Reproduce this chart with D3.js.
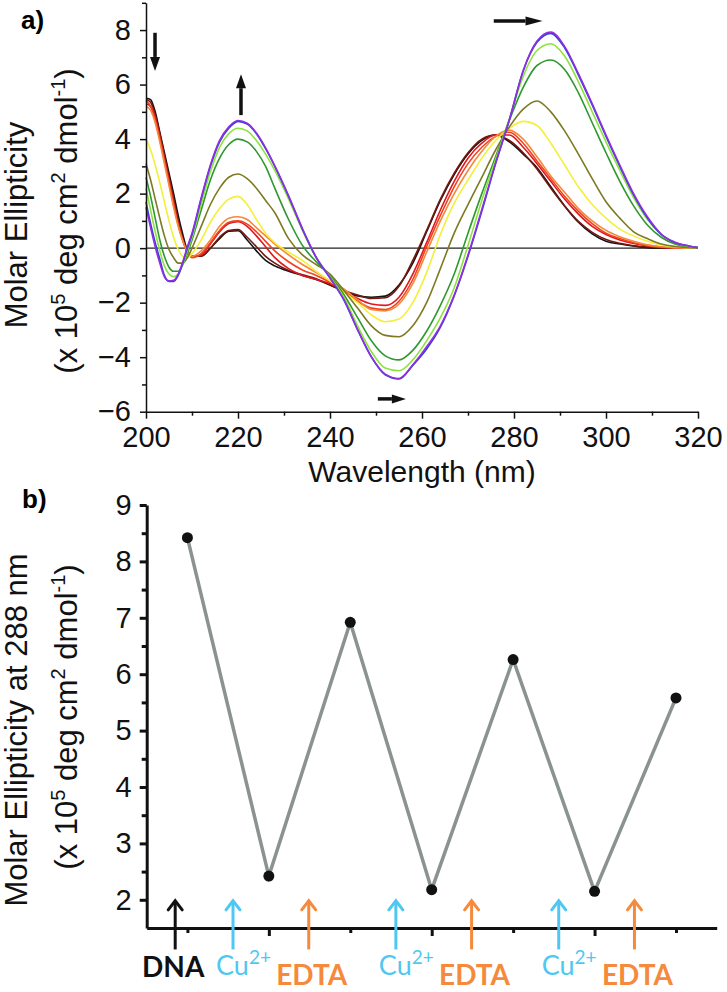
<!DOCTYPE html>
<html><head><meta charset="utf-8">
<script src="https://cdn.jsdelivr.net/npm/d3@7"></script>
<style>body{margin:0;background:#fff}svg{display:block}</style>
</head><body>
<svg id="chart" width="727" height="992"></svg>
<script>
// ---------- Panel a data ----------
const wavelengths = [200,201,202,203,204,205,206,207,208,209,210,
  212,214,216,218,220,222,224,226,228,
  231,234,237,240,243,246,249,252,255,258,
  261,264,267,270,273,276,279,282,285,288,
  291,294,297,300,303,306,309,312,315,318,320];

const sBlack = [5.5,5.45,5.0,4.25,3.5,2.75,2.0,1.2,0.5,-0.1,-0.3,
  -0.3,0.0,0.35,0.62,0.64,0.3,-0.1,-0.45,-0.65,
  -0.85,-1.0,-1.15,-1.35,-1.58,-1.75,-1.8,-1.76,-1.35,-0.55,
  0.6,1.75,2.7,3.45,3.95,4.15,3.9,3.45,2.95,2.25,
  1.55,0.95,0.52,0.25,0.15,0.08,0.02,0.0,0.0,0.0,0.0];
const sMaroon = [5.45,5.35,4.9,4.2,3.4,2.6,1.8,1.0,0.35,-0.15,-0.3,
  -0.3,0.0,0.4,0.65,0.68,0.4,0.05,-0.3,-0.55,
  -0.82,-0.98,-1.12,-1.35,-1.55,-1.72,-1.85,-1.82,-1.4,-0.45,
  0.65,1.8,2.75,3.5,4.0,4.15,3.95,3.5,2.9,2.2,
  1.55,0.98,0.58,0.32,0.18,0.09,0.04,0.01,0.0,0.0,0.0];
const sRed = [5.3,5.2,4.8,4.1,3.3,2.5,1.7,0.9,0.3,-0.15,-0.3,
  -0.25,0.15,0.6,0.9,0.97,0.8,0.45,0.05,-0.35,
  -0.75,-1.0,-1.15,-1.3,-1.55,-1.85,-2.05,-2.1,-1.8,-0.95,
  0.2,1.4,2.45,3.3,3.85,4.15,4.15,3.7,3.1,2.45,
  1.8,1.25,0.8,0.5,0.3,0.17,0.08,0.03,0.01,0.0,0.0];
const sOrangeRed = [5.4,5.2,4.7,4.0,3.2,2.4,1.6,0.85,0.28,-0.15,-0.35,
  -0.2,0.2,0.65,0.95,1.0,0.88,0.6,0.25,-0.1,
  -0.5,-0.8,-1.0,-1.25,-1.55,-1.95,-2.2,-2.25,-1.95,-1.15,
  0.05,1.2,2.25,3.1,3.7,4.1,4.25,3.85,3.2,2.55,
  1.9,1.35,0.9,0.55,0.35,0.2,0.1,0.04,0.01,0.0,0.0];
const sOrange = [5.2,5.05,4.6,3.9,3.1,2.3,1.5,0.8,0.25,-0.15,-0.3,
  -0.1,0.3,0.8,1.1,1.15,1.05,0.75,0.45,0.15,
  -0.25,-0.6,-0.9,-1.2,-1.5,-1.9,-2.25,-2.3,-2.05,-1.3,
  -0.15,1.0,2.0,2.85,3.55,4.1,4.33,4.0,3.35,2.65,
  2.05,1.45,1.0,0.65,0.42,0.25,0.12,0.05,0.02,0.0,0.0];
const sYellow = [4.0,3.6,3.05,2.4,1.7,1.0,0.4,-0.05,-0.3,-0.35,-0.2,
  0.3,0.95,1.45,1.8,1.9,1.6,1.05,0.55,0.2,
  -0.15,-0.45,-0.85,-1.2,-1.6,-2.0,-2.45,-2.7,-2.6,-2.0,
  -0.9,0.5,1.65,2.5,3.3,3.95,4.4,4.65,4.5,3.85,
  3.05,2.25,1.6,1.1,0.7,0.45,0.25,0.12,0.05,0.02,0.0];
const sOlive = [3.1,2.5,1.8,1.1,0.45,-0.05,-0.35,-0.55,-0.55,-0.35,0.0,
  0.8,1.6,2.2,2.6,2.72,2.55,2.2,1.75,1.3,
  0.35,-0.25,-0.6,-0.95,-1.55,-2.2,-2.85,-3.2,-3.25,-2.85,
  -2.0,-0.75,0.55,1.6,2.6,3.6,4.45,5.1,5.4,5.0,
  4.3,3.45,2.55,1.7,1.1,0.6,0.35,0.15,0.06,0.02,0.0];
const sGreen = [2.6,1.9,1.1,0.3,-0.3,-0.7,-0.85,-0.85,-0.6,-0.2,0.3,
  1.4,2.5,3.3,3.8,4.0,3.9,3.55,3.0,2.2,
  1.05,0.1,-0.5,-1.0,-1.7,-2.55,-3.4,-3.95,-4.1,-3.75,
  -3.05,-2.1,-0.95,0.55,2.0,3.35,4.7,5.9,6.7,6.9,
  6.55,5.7,4.6,3.5,2.45,1.55,0.85,0.4,0.15,0.05,0.02];
const sLightGreen = [2.2,1.4,0.6,-0.1,-0.65,-0.95,-1.05,-0.95,-0.6,-0.1,0.4,
  1.6,2.8,3.7,4.2,4.4,4.3,3.95,3.45,2.85,
  1.8,0.65,-0.35,-1.05,-1.8,-2.85,-3.8,-4.4,-4.5,-4.1,
  -3.4,-2.55,-1.45,0.1,1.75,3.25,4.75,6.3,7.25,7.5,
  7.05,6.1,5.0,3.9,2.85,1.85,1.05,0.5,0.2,0.07,0.02];
const sBlue = [1.7,0.9,0.2,-0.4,-1.0,-1.22,-1.22,-1.0,-0.55,0.0,0.5,
  1.8,3.0,3.9,4.4,4.65,4.55,4.2,3.65,3.0,
  1.9,0.7,-0.35,-1.1,-1.9,-3.0,-4.0,-4.65,-4.8,-4.3,
  -3.7,-2.9,-1.75,-0.3,1.35,3.1,4.7,6.5,7.55,7.88,
  7.35,6.35,5.25,4.1,3.0,1.95,1.1,0.5,0.2,0.08,0.02];
const sPurple = [1.5,0.75,0.05,-0.55,-1.05,-1.2,-1.18,-0.95,-0.5,0.05,0.55,
  1.85,3.05,3.95,4.45,4.68,4.58,4.22,3.68,3.02,
  1.92,0.72,-0.33,-1.08,-1.88,-2.98,-3.98,-4.62,-4.78,-4.28,
  -3.62,-2.85,-1.72,-0.25,1.42,3.12,4.72,6.52,7.6,7.93,
  7.4,6.4,5.3,4.15,3.05,2.0,1.15,0.52,0.22,0.08,0.02];

const spectra = [sBlack,sMaroon,sRed,sOrangeRed,sOrange,sYellow,sOlive,sGreen,sLightGreen,sBlue,sPurple];
const spectraColors = ["#141414","#741810","#e1161e","#f0421f","#f5883a","#f3ef3a","#7d7a22","#2e982e","#8be43c","#2f3fd8","#8f2fe0"];

const xTicksTop = [200,220,240,260,280,300,320];
const xMinorTop = [210,230,250,270,290,310];
const yTicksTop = [-6,-4,-2,0,2,4,6,8];
const yMinorTop = [-5,-3,-1,1,3,5,7,9];

// ---------- Panel b data ----------
const steps = [1,2,3,4,5,6,7];
const ellipticity288 = [8.42,2.42,6.92,2.18,6.26,2.15,5.58];
const yTicksBot = [2,3,4,5,6,7,8,9];
const yMinorBot = [2.5,3.5,4.5,5.5,6.5,7.5,8.5];
const xMajorBot = [2,4,6];
const xMinorBot = [1,3,5,7];
const dnaStep = 0.85;
const cuSteps = [1.56,3.56,5.56];
const edtaSteps = [2.49,4.49,6.49];

// ---------- Drawing ----------
const svg = d3.select("#chart");
const FONT = "'Liberation Sans', Arial, sans-serif";
const LFONT = "Lato, 'Open Sans', sans-serif";

// Panel a scales
const xA = d3.scaleLinear().domain([200,320]).range([146,698]);
const yA = d3.scaleLinear().domain([-6,9]).range([411.7,2.8]);

const gA = svg.append("g");
gA.append("line").attr("x1",xA(200)).attr("x2",xA(320)).attr("y1",yA(0)).attr("y2",yA(0))
  .attr("stroke","#222").attr("stroke-width",1.3);

const lineA = d3.line().x((d,i)=>xA(wavelengths[i])).y(d=>yA(d)).curve(d3.curveMonotoneX);
spectra.forEach((s,k)=>{
  gA.append("path").attr("d",lineA(s)).attr("fill","none")
    .attr("stroke",spectraColors[k]).attr("stroke-width",1.6).attr("stroke-linejoin","round");
});

function styleAxis(g, sw, fs){
  g.selectAll(".domain").attr("stroke","#111").attr("stroke-width",sw);
  g.selectAll(".tick line").attr("stroke","#111").attr("stroke-width",sw);
  g.selectAll("text").attr("font-family",FONT).attr("font-size",fs).attr("fill","#111");
}

const axYA = gA.append("g").attr("transform",`translate(${xA(200)},0)`)
  .call(d3.axisLeft(yA).tickValues(yTicksTop).tickSize(6).tickSizeOuter(0).tickPadding(9).tickFormat(d3.format("d")));
styleAxis(axYA,1.5,29);
const axYAm = gA.append("g").attr("transform",`translate(${xA(200)},0)`)
  .call(d3.axisLeft(yA).tickValues(yMinorTop).tickSize(4).tickFormat(""));
axYAm.select(".domain").remove(); styleAxis(axYAm,1.5,29);

const axXA = gA.append("g").attr("transform",`translate(0,${yA(-6)})`)
  .call(d3.axisBottom(xA).tickValues(xTicksTop).tickSize(7).tickSizeOuter(0).tickPadding(8).tickFormat(d3.format("d")));
styleAxis(axXA,1.5,29);
const axXAm = gA.append("g").attr("transform",`translate(0,${yA(-6)})`)
  .call(d3.axisBottom(xA).tickValues(xMinorTop).tickSize(4).tickFormat(""));
axXAm.select(".domain").remove(); styleAxis(axXAm,1.5,29);

function filledArrow(g, x1,y1,x2,y2, shaftW, headL, headW){
  const dx=x2-x1, dy=y2-y1, len=Math.hypot(dx,dy), ux=dx/len, uy=dy/len, px=-uy, py=ux;
  const bx=x2-ux*headL, by=y2-uy*headL;
  g.append("line").attr("x1",x1).attr("y1",y1).attr("x2",bx).attr("y2",by)
    .attr("stroke","#111").attr("stroke-width",shaftW);
  g.append("path").attr("d",`M${x2},${y2}L${bx+px*headW/2},${by+py*headW/2}L${bx-px*headW/2},${by-py*headW/2}Z`)
    .attr("fill","#111");
}
filledArrow(gA, xA(201.96), yA(7.9), xA(201.96), yA(6.5), 3.5, 14, 10);
filledArrow(gA, xA(220.65), yA(4.88), xA(220.65), yA(6.38), 3.5, 14, 10);
filledArrow(gA, xA(275.6), yA(8.33), xA(286.2), yA(8.33), 3.5, 17, 9);
filledArrow(gA, xA(250.4), yA(-5.53), xA(256.5), yA(-5.53), 3.5, 14, 9);

svg.append("text").attr("x",21).attr("y",29).attr("font-family",FONT).attr("font-weight","bold")
  .attr("font-size",26).text("a)");
svg.append("text").attr("x",422).attr("y",482).attr("text-anchor","middle")
  .attr("font-family",FONT).attr("font-size",30).attr("fill","#111").text("Wavelength (nm)");

function yTitle(cx, cy, line1, cx2, cy2){
  svg.append("text").attr("transform",`translate(${cx},${cy}) rotate(-90)`).attr("text-anchor","middle")
    .attr("font-family",FONT).attr("font-size",31).attr("fill","#111").text(line1);
  const t = svg.append("text").attr("transform",`translate(${cx2},${cy2}) rotate(-90)`).attr("text-anchor","middle")
    .attr("font-family",FONT).attr("font-size",31).attr("fill","#111");
  t.append("tspan").text("(x 10");
  t.append("tspan").attr("font-size",20).attr("dy",-12).text("5");
  t.append("tspan").attr("dy",12).text(" deg cm");
  t.append("tspan").attr("font-size",20).attr("dy",-12).text("2");
  t.append("tspan").attr("dy",12).text(" dmol");
  t.append("tspan").attr("font-size",20).attr("dy",-12).text("-1");
  t.append("tspan").attr("dy",12).text(")");
}
yTitle(27, 225, "Molar Ellipticity", 77, 221);

// Panel b scales
const xB = d3.scaleLinear().domain([0.5,7.5]).range([146.7,716.7]);
const yB = d3.scaleLinear().domain([1.5,9]).range([928,505]);
const gB = svg.append("g");

const axYB = gB.append("g").attr("transform",`translate(${xB(0.5)},0)`)
  .call(d3.axisLeft(yB).tickValues(yTicksBot).tickSize(7).tickSizeOuter(0).tickPadding(8).tickFormat(d3.format("d")));
styleAxis(axYB,3,29);
const axYBm = gB.append("g").attr("transform",`translate(${xB(0.5)},0)`)
  .call(d3.axisLeft(yB).tickValues(yMinorBot).tickSize(5).tickFormat(""));
axYBm.select(".domain").remove(); styleAxis(axYBm,3,29);

const axXB = gB.append("g").attr("transform",`translate(0,${yB(1.5)})`)
  .call(d3.axisBottom(xB).tickValues(xMajorBot).tickSize(8).tickSizeOuter(0).tickFormat(""));
styleAxis(axXB,3,29);
const axXBm = gB.append("g").attr("transform",`translate(0,${yB(1.5)})`)
  .call(d3.axisBottom(xB).tickValues(xMinorBot).tickSize(5).tickFormat(""));
axXBm.select(".domain").remove(); styleAxis(axXBm,3,29);

const lineB = d3.line().x((d,i)=>xB(steps[i])).y(d=>yB(d));
gB.append("path").attr("d",lineB(ellipticity288)).attr("fill","none")
  .attr("stroke","#8a9292").attr("stroke-width",3.5).attr("stroke-linejoin","miter");
gB.selectAll("circle.pt").data(ellipticity288).enter().append("circle")
  .attr("cx",(d,i)=>xB(steps[i])).attr("cy",d=>yB(d)).attr("r",5.5).attr("fill","#111");

function openArrow(x, color){
  const yTip = yB(2.0), yTail = yB(1.12);
  gB.append("line").attr("x1",x).attr("x2",x).attr("y1",yTail).attr("y2",yTip+1)
    .attr("stroke",color).attr("stroke-width",3);
  gB.append("path").attr("d",`M${x-7},${yTip+10}L${x},${yTip+1}L${x+7},${yTip+10}`)
    .attr("fill","none").attr("stroke",color).attr("stroke-width",3).attr("stroke-linecap","round");
}
openArrow(xB(dnaStep), "#111");
cuSteps.forEach(s=>openArrow(xB(s), "#4ec8f2"));
edtaSteps.forEach(s=>openArrow(xB(s), "#f58a3c"));

svg.append("text").attr("x",xB(dnaStep)-2).attr("y",977).attr("text-anchor","middle")
  .attr("font-family",LFONT).attr("font-weight","bold").attr("font-size",28).attr("fill","#111").text("DNA");
cuSteps.forEach(s=>{
  const t = svg.append("text").attr("x",xB(s)-17).attr("y",975)
    .attr("font-family",LFONT).attr("font-size",27).attr("fill","#4ec8f2");
  t.append("tspan").text("Cu");
  t.append("tspan").attr("font-size",19).attr("dy",-11).text("2+");
});
edtaSteps.forEach(s=>{
  svg.append("text").attr("x",xB(s)+3).attr("y",985).attr("text-anchor","middle")
    .attr("font-family",LFONT).attr("font-weight","bold").attr("font-size",28).attr("fill","#f58a3c").text("EDTA");
});

svg.append("text").attr("x",22).attr("y",508).attr("font-family",FONT).attr("font-weight","bold")
  .attr("font-size",26).text("b)");
yTitle(27, 730, "Molar Ellipticity at 288 nm", 77, 717);
</script>
</body></html>
